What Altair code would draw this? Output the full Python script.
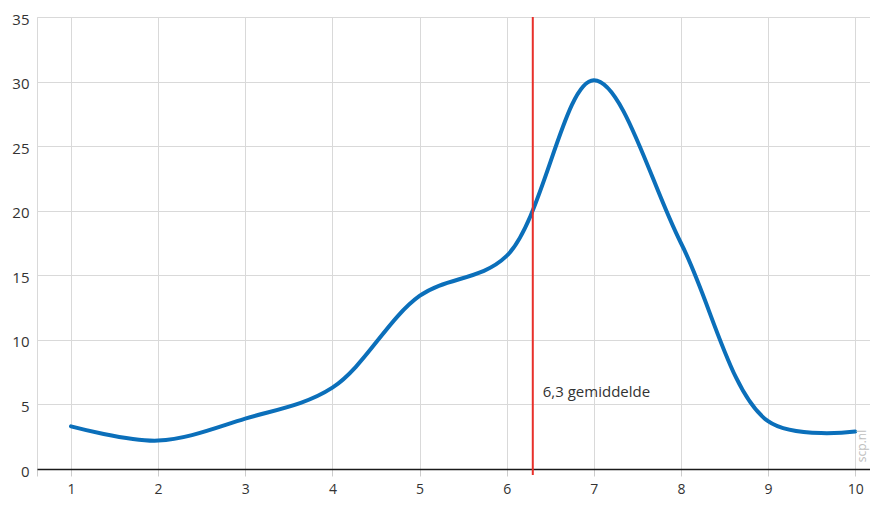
import altair as alt
import pandas as pd

x_vals = [1, 2, 3, 4, 5, 6, 7, 8, 9, 10]
y_vals = [3.3, 2.2, 3.9, 6.3, 13.4, 16.5, 30.1, 17.5, 3.7, 2.9]
mean_val = 6.3
mean_label = "6,3 gemiddelde"
watermark = "scp.nl"

df = pd.DataFrame({"x": x_vals, "y": y_vals})
FONT = "Open Sans"

xscale = alt.Scale(domain=[0.61, 10.17], nice=False, zero=False)
yscale = alt.Scale(domain=[0, 35], nice=False)

line = alt.Chart(df).mark_line(
    interpolate="catmull-rom", color="#0b6fba", strokeWidth=4, strokeCap="round"
).encode(
    x=alt.X("x:Q", scale=xscale, title=None,
            axis=alt.Axis(values=[0.61] + x_vals,
                          labelExpr="datum.value < 1 ? '' : format(datum.value, 'd')",
                          grid=True, gridColor="#d9d9d9", gridWidth=1,
                          domainColor="#1a1a1a", domainWidth=1.5,
                          tickColor="#cccccc", tickSize=7,
                          labelPadding=6, labelFontSize=14, labelColor="#333333",
                          labelFont=FONT)),
    y=alt.Y("y:Q", scale=yscale, title=None,
            axis=alt.Axis(values=[0, 5, 10, 15, 20, 25, 30, 35],
                          grid=True, gridColor="#d9d9d9", gridWidth=1,
                          domain=False, ticks=False, labelPadding=8, labelOffset=2,
                          labelFontSize=15, labelColor="#333333", labelFont=FONT)),
)

mean_df = pd.DataFrame({"m": [mean_val], "label": [mean_label], "ty": [6.0]})
rule = alt.Chart(mean_df).mark_rule(color="#e8302a", strokeWidth=2).encode(
    x=alt.X("m:Q", scale=xscale),
    y=alt.value(0),
    y2=alt.value(458),
)
text = alt.Chart(mean_df).mark_text(
    align="left", baseline="middle", dx=10, fontSize=15, color="#333333", font=FONT
).encode(
    x=alt.X("m:Q", scale=xscale),
    y=alt.Y("ty:Q", scale=yscale),
    text="label:N",
)
wm = alt.Chart(pd.DataFrame({"t": [watermark]})).mark_text(
    angle=270, align="center", baseline="middle", fontSize=12, color="#c0c0c0", font=FONT
).encode(x=alt.value(825), y=alt.value(429), text="t:N")

chart = alt.layer(line, rule, text, wm).properties(
    width=833, height=452,
    autosize=alt.AutoSizeParams(type="none"),
    padding={"left": 29, "top": 9, "right": 0, "bottom": 29},
).configure_view(stroke=None).configure(background="white")

chart.save("out.html", embed_options={"renderer": "svg", "actions": False})
